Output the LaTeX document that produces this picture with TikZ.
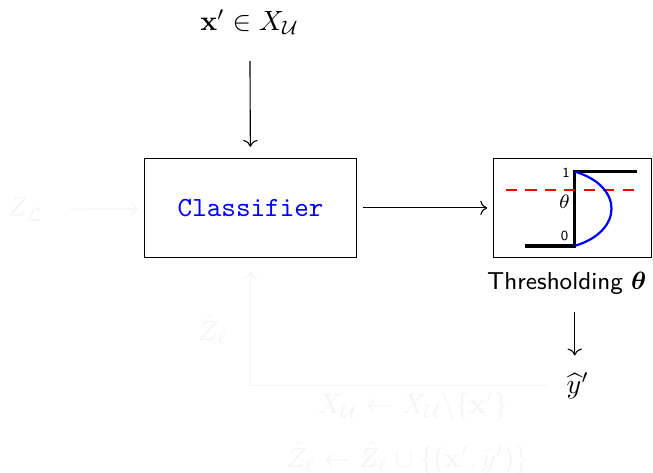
\documentclass[tikz,border=0pt]{standalone}
\usepackage{amsmath,amssymb}
\usepackage{bm}
\usetikzlibrary{arrows.meta,positioning,calc}
\definecolor{faintgrey}{RGB}{244,244,244}
\newcommand{\xb}{\mathbf{x}}
\newcommand{\XU}{X_{\mathcal{U}}}

\begin{document}
\begin{tikzpicture}[
    arr/.style={->},
    faint/.style={faintgrey, text=faintgrey},
    box/.style={draw, minimum height=1.25cm, align=center},
    stepline/.style={line width=1.25pt}
]
    \useasboundingbox (0,0) rectangle (8.26,5.98);
    \node (xin) at (3.16,5.70) {$\xb' \in \XU$};
    \node[box, minimum width=2.69cm, font=\ttfamily, text=blue] (clf) at (3.17,3.35) {Classifier};
    \node[box, minimum width=2.0cm] (thr) at (7.24,3.35) {};
    \node[faint] (zl) at (0.32,3.33) {$Z_{\mathcal{L}}$};
    % step function inside the threshold box
    \coordinate (s0) at (6.64,2.87);
    \coordinate (s1) at (7.27,2.87);
    \coordinate (s2) at (7.27,3.81);
    \coordinate (s3) at (8.06,3.81);
    \draw[stepline] (s0) -- (s1) -- (s2) -- (s3);
    \draw[red, thick, dash pattern=on 4pt off 3pt] (6.40,3.58) -- (8.12,3.58);
    \draw[blue, thick] (s2) .. controls (7.90,3.62) and (7.88,3.05) .. (s1);
    \node[font=\sffamily\tiny, inner sep=1pt] (one) at (7.16,3.79) {1};
    \node[font=\sffamily\tiny, inner sep=1pt] (zero) at (7.14,2.99) {0};
    \node[font=\scriptsize, inner sep=1pt] (th) at (7.14,3.43) {$\theta$};
    \node[font=\sffamily\fontsize{8.8}{11}\selectfont] (thrlabel) at (7.17,2.40) {Thresholding $\bm{\theta}$};
    \node[inner sep=1pt] (yhat) at (7.31,1.10) {$\widehat{y}'$};
    \node[faint, inner sep=1pt] (zhat) at (2.69,1.81) {$\hat{Z}_\ell$};
    \node[faint, inner sep=1pt] (upd1) at (5.22,0.84) {$\XU \leftarrow \XU \backslash \{\xb'\}$};
    \node[faint, inner sep=1pt] (upd2) at (5.15,0.19) {$\hat{Z}_\ell \leftarrow \hat{Z}_\ell \cup \{(\xb',\hat{y}')\}$};
    \draw[arr, shorten <=6pt, shorten >=4pt] (xin) -- (clf);
    \draw[arr, faint, shorten <=6pt, shorten >=2pt] (zl) -- (clf);
    \draw[arr, shorten <=2pt, shorten >=2pt] (clf) -- (thr);
    \draw[arr, shorten <=3pt, shorten >=5pt] (thrlabel.south -| s1) -- (s1 |- yhat.north);
    \draw[arr, faint, shorten <=6pt, shorten >=5pt] (yhat.west) -| (clf.south);
\end{tikzpicture}
\end{document}
